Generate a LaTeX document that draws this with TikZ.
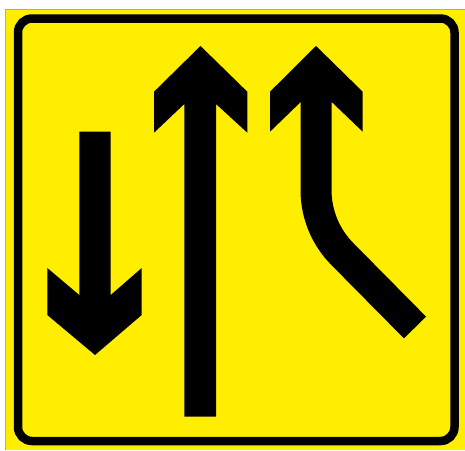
\documentclass[tikz,border=0pt]{standalone}
\usetikzlibrary{calc}
\definecolor{amarillo}{HTML}{FFEE00}
\definecolor{marco}{HTML}{A8A8A8}

\begin{document}
\begin{tikzpicture}[x=1pt, y=-1pt,
				flecha/.style={fill=black},
				trazo/.style={draw=black, line width=31pt}]
				\useasboundingbox (0,0) rectangle (465,450);
				\fill[white] (0,0) rectangle (465,450);
				\fill[amarillo] (6,10) rectangle (465,450);
				\draw[marco, line width=1pt] (5,450) -- (5,9.5) -- (465,9.5);
				\draw[black, line width=8.5pt, rounded corners=14pt] (18,18.5) rectangle (454.5,441);
				% carril contrario
				\fill[flecha] (79.3,131.7) -- (110.7,131.7) -- (110.7,295) -- (141.7,268) -- (141.7,315)
					-- (95,355) -- (47.3,315) -- (47.3,268) -- (79.3,295) -- cycle;
				% carril recto
				\fill[flecha] (184.3,104) -- (154,132.7) -- (154,91.7) -- (200.5,46) -- (247.3,91.7)
					-- (247.3,132.7) -- (216,104) -- (216,416.7) -- (184.3,416.7) -- cycle;
				% carril que se incorpora
				\fill[flecha] (300.7,102) -- (270,131.7) -- (270,91.7) -- (316,46) -- (362.7,91.7)
					-- (362.7,131.7) -- (331.7,102) -- cycle;
				\draw[trazo] (316,101) -- (316,190) arc[start angle=180, end angle=135, radius=91] -- (415,327.5);
			\end{tikzpicture}
\end{document}
